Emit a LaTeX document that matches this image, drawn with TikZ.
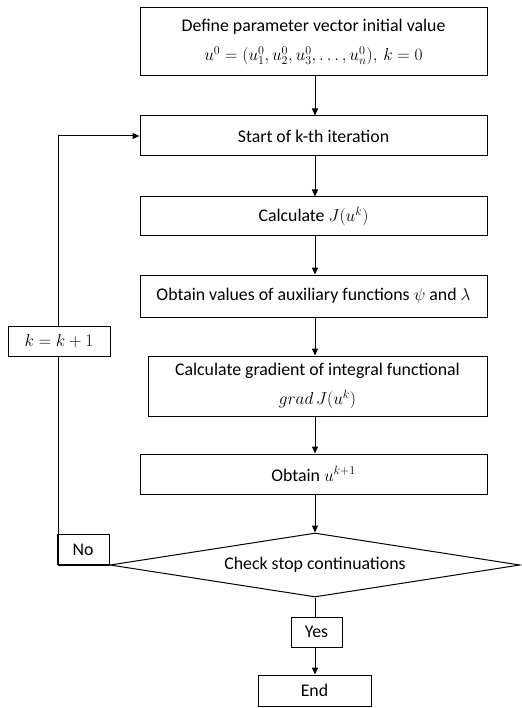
\documentclass[tikz,border=0pt]{standalone}
\usepackage{fontspec}
\setmainfont{Carlito}
\usetikzlibrary{shapes.geometric,arrows.meta}
\begin{document}
\begin{tikzpicture}[x=1pt,y=-1pt,
  every node/.style={font=\fontsize{17.8}{29}\selectfont},
  box/.style={draw,line width=1pt,rectangle,inner sep=0pt,align=center,minimum width=347},
  lbl/.style={draw,line width=1pt,rectangle,inner sep=0pt,align=center},
  conn/.style={line width=1pt},
  arr/.style={line width=1pt,-{Triangle[length=7pt,width=6pt]}}]
\useasboundingbox (0,0) rectangle (521,708);
\node[box,minimum height=68] (b1) at (313.5,42) {Define parameter vector initial value\\$u^0=(u_1^0,u_2^0,u_3^0,\dots,u_n^0),\,k=0$};
\node[box,minimum height=40] (b2) at (313.5,136) {Start of k-th iteration};
\node[box,minimum height=39] (b3) at (313.5,216.5) {Calculate $J(u^k)$};
\node[box,minimum height=42] (b4) at (313.5,296) {Obtain values of auxiliary functions $\psi$ and $\lambda$};
\node[box,minimum height=60,minimum width=339] (b5) at (317.5,386) {Calculate gradient of integral functional\\$grad\,J(u^k)$};
\node[box,minimum height=40] (b6) at (313.5,474) {Obtain $u^{k+1}$};
\node[draw,line width=1pt,diamond,inner sep=0pt,minimum width=410,minimum height=64,aspect=6.4] (d) at (315,565) {Check stop continuations};
\node[lbl,minimum width=51,minimum height=30] (yes) at (316.5,632) {Yes};
\node[lbl,minimum width=113,minimum height=31] (end) at (314.5,690.5) {End};
\coordinate (lx) at (58,565);
\node[lbl,minimum width=102,minimum height=30,fill=white] (kk) at (59,341) {$k=k+1$};
\node[lbl,minimum width=52,minimum height=30,anchor=south east] (no) at (d.west) {No};
\draw[arr] (b1.south -| d.north) -- (b2.north -| d.north);
\draw[arr] (b2.south -| d.north) -- (b3.north -| d.north);
\draw[arr] (b3.south -| d.north) -- (b4.north -| d.north);
\draw[arr] (b4.south -| d.north) -- (b5.north -| d.north);
\draw[arr] (b5.south -| d.north) -- (b6.north -| d.north);
\draw[arr] (b6.south -| d.north) -- (d.north);
\draw[conn] (d.south) -- (yes.north -| d.south);
\draw[arr] (yes.south -| d.south) -- (end.north -| d.south);
\draw[conn] (d.west) -- (lx) -- (lx |- kk.south);
\draw[arr] (lx |- kk.north) |- (b2.west);
\end{tikzpicture}
\end{document}
